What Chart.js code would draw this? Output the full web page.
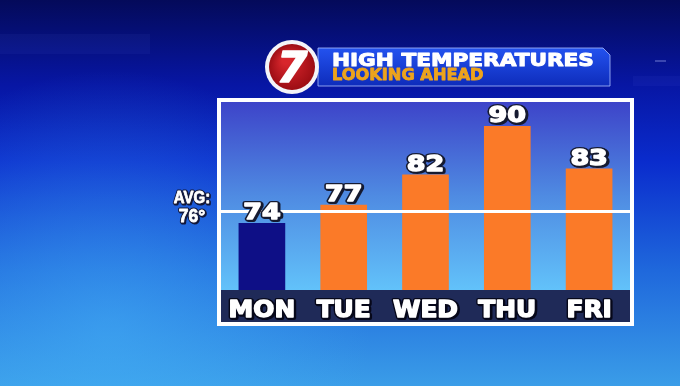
<!DOCTYPE html>
<html>
<head>
<meta charset="utf-8">
<script src="https://cdn.jsdelivr.net/npm/chart.js@4.4.1/dist/chart.umd.min.js"></script>
<style>
  html, body { margin: 0; padding: 0; background: #0a22b8; }
  canvas { display: block; }
</style>
</head>
<body>
<canvas id="graficoTemps" width="680" height="386"></canvas>
<script>
// datos del grafico
const days = ['MON', 'TUE', 'WED', 'THU', 'FRI']
const highs = [74, 77, 82, 90, 83]
const avgTemp = 76
const titleText = 'HIGH TEMPERATURES'
const subtitleText = 'LOOKING AHEAD'

// texto estirado en horizontal (estilo TV), con negrita falsa
const drawText = (ctx, text, x, y, opts) => {
  ctx.save()
  ctx.translate(x, y)
  ctx.scale(opts.sx || 1, 1)
  ctx.font = opts.font
  ctx.textAlign = opts.align || 'left'
  ctx.textBaseline = opts.baseline || 'alphabetic'
  ctx.lineJoin = 'round'
  if (opts.stroke) {
    ctx.lineWidth = opts.strokeWidth || 3
    ctx.strokeStyle = opts.stroke
    ctx.strokeText(text, 1, 1)
    ctx.strokeText(text, 0, 0)
  }
  if (opts.heavy) {
    ctx.lineWidth = opts.heavy
    ctx.strokeStyle = opts.fill
    ctx.strokeText(text, 0, 0)
  }
  ctx.fillStyle = opts.fill
  ctx.fillText(text, 0, 0)
  ctx.restore()
}

// fondo, cabecera y marco
const backdrop = {
  id: 'backdrop',
  beforeDraw(chart) {
    const ctx = chart.ctx
    const W = chart.width, H = chart.height
    const area = chart.chartArea
    const xs = chart.scales.x

    let g = ctx.createLinearGradient(0, 0, 0, H)
    g.addColorStop(0, '#040a5a')
    g.addColorStop(0.22, '#0716a4')
    g.addColorStop(0.42, '#0a2ccd')
    g.addColorStop(0.7, '#1f68dc')
    g.addColorStop(1, '#3a9de8')
    ctx.fillStyle = g
    ctx.fillRect(0, 0, W, H)
    let r = ctx.createRadialGradient(110, 330, 10, 110, 330, 260)
    r.addColorStop(0, 'rgba(70,180,248,0.5)')
    r.addColorStop(1, 'rgba(70,180,248,0)')
    ctx.fillStyle = r
    ctx.fillRect(0, 0, W, H)

    // detalles decorativos tenues
    ctx.fillStyle = 'rgba(120,140,255,0.06)'
    ctx.fillRect(0, 34, 150, 20)
    ctx.fillRect(633, 76, 47, 10)
    ctx.fillStyle = 'rgba(160,170,240,0.35)'
    ctx.fillRect(655, 60, 11, 2)

    // barra del titulo
    ctx.beginPath()
    ctx.moveTo(318, 48)
    ctx.lineTo(603, 48)
    ctx.lineTo(610, 55)
    ctx.lineTo(610, 86)
    ctx.lineTo(318, 86)
    ctx.closePath()
    let tg = ctx.createLinearGradient(0, 48, 0, 86)
    tg.addColorStop(0, '#2352ef')
    tg.addColorStop(1, '#0e2cbb')
    ctx.fillStyle = tg
    ctx.fill()
    ctx.strokeStyle = 'rgba(170,190,255,0.8)'
    ctx.lineWidth = 1
    ctx.stroke()

    // logo 7
    ctx.beginPath()
    ctx.arc(292, 67, 27, 0, Math.PI * 2)
    ctx.fillStyle = '#f4f4f8'
    ctx.fill()
    let lg = ctx.createRadialGradient(286, 60, 4, 292, 67, 23)
    lg.addColorStop(0, '#d8262c')
    lg.addColorStop(1, '#9c0d14')
    ctx.beginPath()
    ctx.arc(292, 67, 23, 0, Math.PI * 2)
    ctx.fillStyle = lg
    ctx.fill()
    drawText(ctx, '7', 292, 82, { font: 'italic bold 42px "DejaVu Sans"', fill: '#ffffff', align: 'center', sx: 1.05, heavy: 1.5 })

    drawText(ctx, titleText, 332, 66, { font: 'bold 18px "DejaVu Sans"', fill: '#ffffff', sx: 1.2, heavy: 1 })
    drawText(ctx, subtitleText, 332, 80, { font: 'bold 15px "DejaVu Sans"', fill: '#eda31c', sx: 1.08, heavy: 0.8 })

    // marco blanco
    ctx.fillStyle = '#ffffff'
    ctx.fillRect(area.left - 4, area.top - 4, area.right - area.left + 8, xs.bottom - area.top + 8)

    // fondo del area del grafico
    let ig = ctx.createLinearGradient(0, area.top, 0, area.bottom)
    ig.addColorStop(0, '#3d44c9')
    ig.addColorStop(0.5, '#4f8be2')
    ig.addColorStop(1, '#62c2fa')
    ctx.fillStyle = ig
    ctx.fillRect(area.left, area.top, area.right - area.left, area.bottom - area.top)

    // franja de los dias
    ctx.fillStyle = '#1f2a58'
    ctx.fillRect(area.left, area.bottom, area.right - area.left, xs.bottom - area.bottom)
  },
  afterDatasetsDraw(chart) {
    const ctx = chart.ctx
    const area = chart.chartArea
    const ys = chart.scales.y
    const xs = chart.scales.x

    // linea del promedio
    const yAvg = ys.getPixelForValue(avgTemp)
    ctx.fillStyle = '#ffffff'
    ctx.fillRect(area.left - 4, Math.round(yAvg) - 1, area.right - area.left + 8, 3)

    drawText(ctx, 'AVG:', 192, 203, { font: 'bold 17px "Liberation Sans"', fill: '#ffffff', align: 'center', stroke: '#13183a', strokeWidth: 3, sx: 0.88, heavy: 0.8 })
    drawText(ctx, avgTemp + '°', 192, 222, { font: 'bold 19px "Liberation Sans"', fill: '#ffffff', align: 'center', stroke: '#13183a', strokeWidth: 3, sx: 0.92, heavy: 0.8 })

    // etiquetas de valores
    const meta = chart.getDatasetMeta(0)
    meta.data.forEach((bar, i) => {
      drawText(ctx, String(highs[i]), bar.x, bar.y - 4, {
        font: 'bold 21px "DejaVu Sans"', fill: '#ffffff', align: 'center',
        stroke: '#151a30', strokeWidth: 4, sx: 1.28, heavy: 1.4
      })
    })

    // etiquetas de los dias, en las posiciones del eje
    xs.getLabels().forEach((lab, i) => {
      drawText(ctx, lab, xs.getPixelForTick(i), area.bottom + 27, {
        font: 'bold 23px "DejaVu Sans"', fill: '#ffffff', align: 'center',
        stroke: '#07081a', strokeWidth: 4, sx: 1.08, heavy: 1.4
      })
    })
  }
}

const ctxTemps = document.getElementById('graficoTemps')
const chartTemps = new Chart(ctxTemps, {
  type: 'bar',
  data: {
    labels: days,
    datasets: [{
      data: highs,
      backgroundColor: highs.map(v => v < avgTemp ? '#0e0f86' : '#fb7a28'),
      borderWidth: 0,
      barThickness: 46
    }]
  },
  options: {
    responsive: false,
    animation: false,
    layout: { padding: { left: 221, right: 50, top: 102, bottom: 64 } },
    plugins: {
      legend: { display: false },
      tooltip: { enabled: false },
      title: { display: false }
    },
    scales: {
      x: {
        grid: { display: false, drawTicks: false },
        border: { display: false },
        afterFit: (scale) => { scale.height = 32 },
        ticks: { display: false }
      },
      y: {
        display: false,
        min: 63,
        max: 94
      }
    }
  },
  plugins: [backdrop]
})
</script>
</body>
</html>
